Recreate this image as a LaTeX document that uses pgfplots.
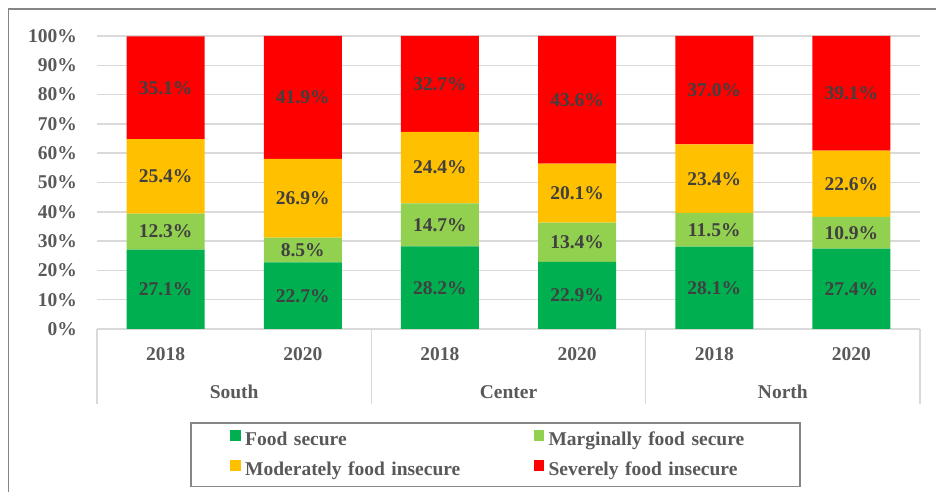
\documentclass[border=0pt]{standalone}
\usepackage{fontspec}
\setmainfont{Liberation Serif}
\usepackage{pgfplots}
\pgfplotsset{compat=1.18}
\usepackage{pgfplotstable}

\definecolor{cFS}{HTML}{00B050}
\definecolor{cMFS}{HTML}{92D050}
\definecolor{cMFI}{HTML}{FFC000}
\definecolor{cSFI}{HTML}{FF0000}
\definecolor{gridgray}{HTML}{D9D9D9}
\definecolor{txtgray}{HTML}{595959}
\definecolor{lblgray}{HTML}{404040}
\definecolor{framegray}{HTML}{868686}

% x: 0-1 South, 2-3 Center, 4-5 North (2018, 2020)
\pgfplotstableread{
x fs   mfs  mfi  sfi
0 27.1 12.3 25.4 35.1
1 22.7 8.5  26.9 41.9
2 28.2 14.7 24.4 32.7
3 22.9 13.4 20.1 43.6
4 28.1 11.5 23.4 37.0
5 27.4 10.9 22.6 39.1
}\foodtable

\newcommand\bigfont{\fontsize{19.5}{23}\selectfont\bfseries}

\begin{document}
\begin{tikzpicture}
\useasboundingbox (0,0) rectangle (936pt,492pt);
\draw[framegray, line width=1.8pt] (8.5pt,-2pt) -- (8.5pt,483.3pt) -- (938pt,483.3pt);

\begin{axis}[
    at={(97pt,163pt)}, anchor=south west,
    width=823pt, height=293pt, scale only axis,
    ybar stacked, bar width=78pt,
    xmin=-0.5, xmax=5.5, ymin=0, ymax=100,
    xtick={0,...,5},
    xticklabels={2018,2020,2018,2020,2018,2020},
    ytick={0,10,...,100},
    yticklabel={\pgfmathprintnumber{\tick}\%},
    /pgf/number format/assume math mode=true,
    axis line style={draw=none},
    major tick length=0pt,
    ymajorgrids, grid style={gridgray, line width=1.5pt},
    ticklabel style={font=\bigfont, text=txtgray},
    xticklabel style={anchor=base, yshift=-32pt},
    yticklabel style={anchor=east, inner sep=0pt, xshift=-20pt},
    clip=false,
    point meta=explicit,
    nodes near coords={\pgfmathprintnumber[fixed,fixed zerofill,precision=1]{\pgfplotspointmeta}\%},
    every node near coord/.append style={font=\bigfont, text=lblgray, anchor=center},
    legend columns=2,
    legend style={at={(0.1142,-0.3208)}, anchor=north west, name=leg,
        draw=none, font=\bigfont, text=txtgray,
        inner xsep=39pt, inner ysep=7pt, column sep=0pt, row sep=11pt,
        nodes={inner sep=0pt, text height=13pt, text depth=4pt},
        /tikz/column 1/.style={column sep=4.4pt},
        /tikz/column 2/.style={nodes={text width=288.6pt, align=left}},
        /tikz/column 3/.style={column sep=4.2pt},
        /tikz/column 4/.style={nodes={text width=212pt, align=left}}},
    legend image code/.code={\fill[#1] (0pt,0pt) rectangle (10.6pt,10.6pt);},
]
\addplot[fill=cFS, draw=none] table[x=x, y=fs, meta=fs] {\foodtable};
\addplot[fill=cMFS, draw=none] table[x=x, y=mfs, meta=mfs] {\foodtable};
\addplot[fill=cMFI, draw=none] table[x=x, y=mfi, meta=mfi] {\foodtable};
\addplot[fill=cSFI, draw=none] table[x=x, y=sfi, meta=sfi] {\foodtable};
\legend{Food secure, Marginally food secure, Moderately food insecure, Severely food insecure}

\draw[gridgray, line width=1.5pt] (axis cs:-0.5,0) -- ++(0pt,-75pt);
\draw[gridgray, line width=1.5pt] (axis cs:1.5,0) -- ++(0pt,-75pt);
\draw[gridgray, line width=1.5pt] (axis cs:3.5,0) -- ++(0pt,-75pt);
\draw[gridgray, line width=1.5pt] (axis cs:5.5,0) -- ++(0pt,-75pt);
\node[anchor=base, font=\bigfont, text=txtgray, yshift=-69pt] at (axis cs:0.5,0) {South};
\node[anchor=base, font=\bigfont, text=txtgray, yshift=-69pt] at (axis cs:2.5,0) {Center};
\node[anchor=base, font=\bigfont, text=txtgray, yshift=-69pt] at (axis cs:4.5,0) {North};
\end{axis}
\draw[framegray, line width=1.5pt] (leg.south west) rectangle (leg.north east);
\end{tikzpicture}
\end{document}
